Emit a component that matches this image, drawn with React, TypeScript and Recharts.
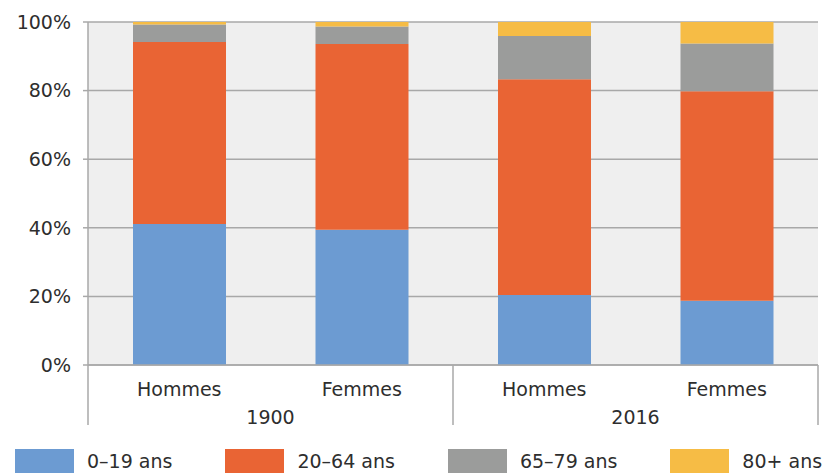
import React from 'react';
import { BarChart, Bar, XAxis, YAxis, CartesianGrid, Legend } from 'recharts';

// categories (two-level axis: sex inside year)
const sexes = ['Hommes', 'Femmes', 'Hommes', 'Femmes'];
const years = ['1900', '1900', '2016', '2016'];

// shares of each age group, in %
const age0to19 = [41.1, 39.4, 20.4, 18.7];
const age20to64 = [53.1, 54.2, 62.9, 61.1];
const age65to79 = [5.1, 5.1, 12.6, 13.9];
const age80plus = [0.7, 1.3, 4.1, 6.3];

const yTicks = [0, 20, 40, 60, 80, 100];

const series = [
  { key: 'a', name: '0–19 ans', color: '#6c9bd2', values: age0to19 },
  { key: 'b', name: '20–64 ans', color: '#e96434', values: age20to64 },
  { key: 'c', name: '65–79 ans', color: '#9b9c9b', values: age65to79 },
  { key: 'd', name: '80+ ans', color: '#f6bc45', values: age80plus },
];

const data = sexes.map((sex, i) => {
  const row: any = { sex, year: years[i] };
  series.forEach((s) => (row[s.key] = s.values[i]));
  return row;
});

const FONT = '"DejaVu Sans", Verdana, sans-serif';
const TEXT = '#2e2e2e';
const LINE = '#a8a8a8';

// group label + separator lines for the outer axis level
const YearTick = (props: any) => {
  const { x, y, index, payload, width, visibleTicksCount } = props;
  const half = width && visibleTicksCount ? width / visibleTicksCount / 2 : 91.25;
  const top = y - 30;
  const bottom = y + 30;
  return (
    <g>
      {(index === 0 || index === 2) && (
        <line x1={x - half} x2={x - half} y1={top} y2={bottom} stroke={LINE} strokeWidth={1.5} />
      )}
      {index === 3 && (
        <line x1={x + half} x2={x + half} y1={top} y2={bottom} stroke={LINE} strokeWidth={1.5} />
      )}
      {index % 2 === 1 && (
        <text x={x - half} y={y + 29} textAnchor="middle" fill={TEXT} fontSize={19} fontFamily={FONT}>
          {payload.value}
        </text>
      )}
    </g>
  );
};

const renderLegend = (props: any) => {
  const { payload } = props;
  return (
    <div
      style={{
        display: 'flex',
        alignItems: 'center',
        height: 24,
        width: 820,
        fontFamily: FONT,
        fontSize: 19,
        color: TEXT,
        whiteSpace: 'nowrap',
      }}
    >
      {payload.map((p: any) => (
        <div key={p.value} style={{ display: 'flex', alignItems: 'center', marginRight: 53, flexShrink: 0 }}>
          <span
            style={{ display: 'inline-block', width: 59, height: 24, background: p.color, marginRight: 13, flexShrink: 0 }}
          />
          <span>{p.value}</span>
        </div>
      ))}
    </div>
  );
};

const App: React.FC = () => {
  return (
    <div style={{ position: 'absolute', left: 0, top: 0, width: 824, height: 473, background: '#fff' }}>
      <BarChart
        width={824}
        height={473}
        data={data}
        margin={{ top: 22, right: 6, left: 28, bottom: 24 }}
        barSize={93}
      >
        <CartesianGrid vertical={false} fill="#efefef" stroke={LINE} strokeWidth={1.5} />
        <XAxis
          dataKey="sex"
          height={30}
          tickLine={false}
          axisLine={{ stroke: LINE, strokeWidth: 1.5 }}
          tickMargin={12}
          interval={0}
          tick={{ fill: TEXT, fontSize: 19, fontFamily: FONT }}
        />
        <XAxis
          xAxisId="year"
          dataKey="year"
          height={30}
          tickLine={false}
          axisLine={false}
          tickSize={0}
          tickMargin={0}
          interval={0}
          tick={<YearTick />}
        />
        <YAxis
          width={60}
          domain={[0, 100]}
          ticks={yTicks}
          tickFormatter={(v) => `${v}%`}
          tickSize={5}
          tickMargin={12}
          axisLine={{ stroke: LINE, strokeWidth: 1.5 }}
          tickLine={{ stroke: LINE, strokeWidth: 1.5 }}
          tick={{ fill: TEXT, fontSize: 19, fontFamily: FONT }}
        />
        <YAxis
          yAxisId="right"
          orientation="right"
          width={0}
          domain={[0, 100]}
          tick={false}
          tickLine={false}
          axisLine={{ stroke: LINE, strokeWidth: 1.5 }}
        />
        <Legend
          verticalAlign="bottom"
          align="left"
          wrapperStyle={{ left: 15, bottom: 0, width: 820 }}
          content={renderLegend}
        />
        {series.map((s) => (
          <Bar key={s.key} dataKey={s.key} name={s.name} stackId="age" fill={s.color} isAnimationActive={false} />
        ))}
      </BarChart>
    </div>
  );
};

export default App;
